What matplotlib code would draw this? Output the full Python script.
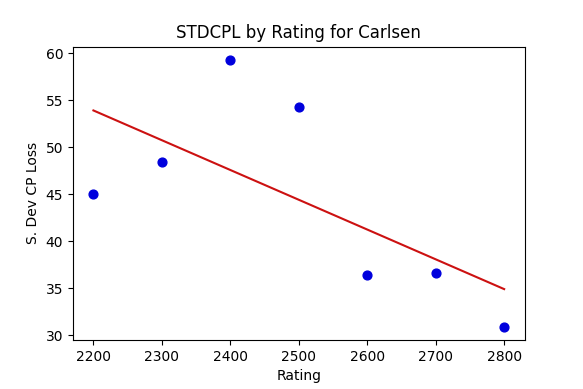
import numpy as np
import matplotlib
matplotlib.use("Agg")
import matplotlib.pyplot as plt

ratings = [2200, 2300, 2400, 2500, 2600, 2700, 2800]
std_cpl = [45.0, 48.4, 59.3, 54.3, 36.4, 36.6, 30.9]

x = np.array(ratings)
y = np.array(std_cpl)
# least squares trend line
m, b = np.polyfit(x, y, 1)

fig, ax = plt.subplots(figsize=(5.83, 3.89), dpi=100)
fig.subplots_adjust(left=0.125, right=0.9, bottom=0.126, top=0.88)
ax.scatter(x, y, color="#0000dd", s=40, zorder=3)
ax.plot(x, m * x + b, color="#cc1111", linewidth=1.5)
ax.set_title("STDCPL by Rating for Carlsen")
ax.set_xlabel("Rating")
ax.set_ylabel("S. Dev CP Loss")
ax.set_yticks([30, 35, 40, 45, 50, 55, 60])
fig.savefig("out.png", dpi=100)
